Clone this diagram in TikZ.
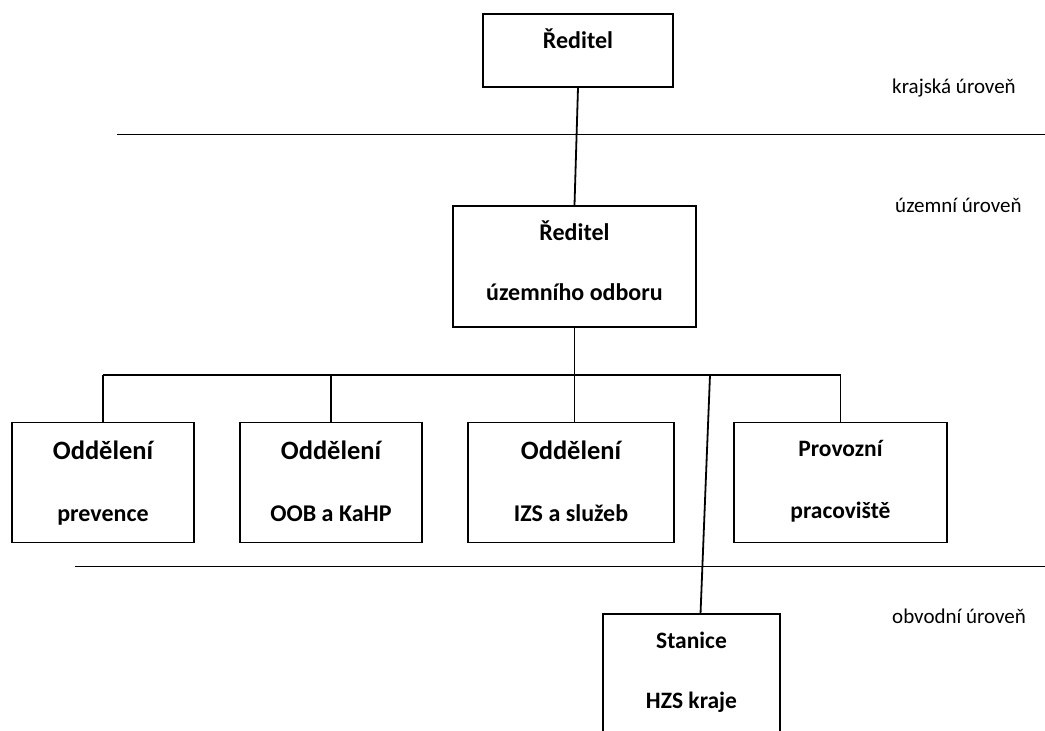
\documentclass[tikz,border=0pt]{standalone}
\usepackage{fontspec}
\setmainfont{Carlito}
\usetikzlibrary{positioning}

\begin{document}
\begin{tikzpicture}[x=1pt, y=-1pt, line width=1.8pt,
  box/.style={draw, inner sep=0pt},
  head/.style={anchor=base, font=\bfseries\fontsize{26.5}{30}\selectfont},
  sub/.style={anchor=base, font=\bfseries\fontsize{24}{28}\selectfont},
  small/.style={anchor=base, font=\bfseries\fontsize{23.5}{28}\selectfont},
  level/.style={anchor=base west, font=\fontsize{21}{25}\selectfont}]
  \useasboundingbox (0,0) rectangle (1045,731);
  \clip (0,0) rectangle (1045,731);
  % krajska uroven
  \node[box, minimum width=190pt, minimum height=73pt] (kraj) at (578,50.3) {};
  \node[sub] (kraj-a) at (578,48.3) {Ředitel};
  \draw (117,134.5) -- (1050,134.5);
  \node[level] (krajlbl) at (888,93.3) {krajská úroveň};
  % uzemni uroven
  \node[box, minimum width=243pt, minimum height=121pt] (uzemi) at (574.5,266.5) {};
  \node[sub] (uzemi-a) at (574.5,240.7) {Ředitel};
  \node[sub] (uzemi-b) at (574.5,300) {územního odboru};
  \node[level] (uzemilbl) at (891,212.7) {územní úroveň};
  \draw (kraj.south) -- (uzemi.north);
  % oddeleni
  \node[box, minimum width=182pt, minimum height=120pt] (prev) at (103,482.5) {};
  \node[head] (prev-a) at (103,459.3) {Oddělení};
  \node[sub] (prev-b) at (103,521) {prevence};
  \node[box, minimum width=182pt, minimum height=120pt] (oob) at (331,482.5) {};
  \node[head] (oob-a) at (331,459.3) {Oddělení};
  \node[sub] (oob-b) at (331,521) {OOB a KaHP};
  \node[box, minimum width=206pt, minimum height=120pt] (izs) at (571,482.5) {};
  \node[head] (izs-a) at (571,459.3) {Oddělení};
  \node[sub] (izs-b) at (571,521) {IZS a služeb};
  \node[box, minimum width=213pt, minimum height=120pt] (prov) at (840.5,482.5) {};
  \node[small] (prov-a) at (840.5,456) {Provozní};
  \node[small] (prov-b) at (840.5,518.3) {pracoviště};
  % sbernice
  \coordinate (busL) at (103,375);
  \coordinate (busR) at (840.5,375);
  \coordinate (busS) at (710,375);
  \draw (busL) -- (busR);
  \draw (uzemi.south) -- (uzemi.south |- izs.north);
  \draw (busL) -- (prev.north);
  \draw (oob.north |- busL) -- (oob.north);
  \draw (busR) -- (prov.north);
  % obvodni uroven
  \draw (75,566.5) -- (1050,566.5);
  \node[level] (obvodlbl) at (888,623.3) {obvodní úroveň};
  \node[inner sep=0pt, minimum width=175pt, minimum height=140pt] (stanice) at (691.5,685) {};
  \draw ([yshift=20pt]stanice.south west) -- (stanice.north west) -- (stanice.north east) -- ([yshift=20pt]stanice.south east);
  \node[small] (stanice-a) at (691.5,648.3) {Stanice};
  \node[small] (stanice-b) at (691.5,708) {HZS kraje};
  \draw (busS) -- ([xshift=9pt]stanice.north);
\end{tikzpicture}
\end{document}
